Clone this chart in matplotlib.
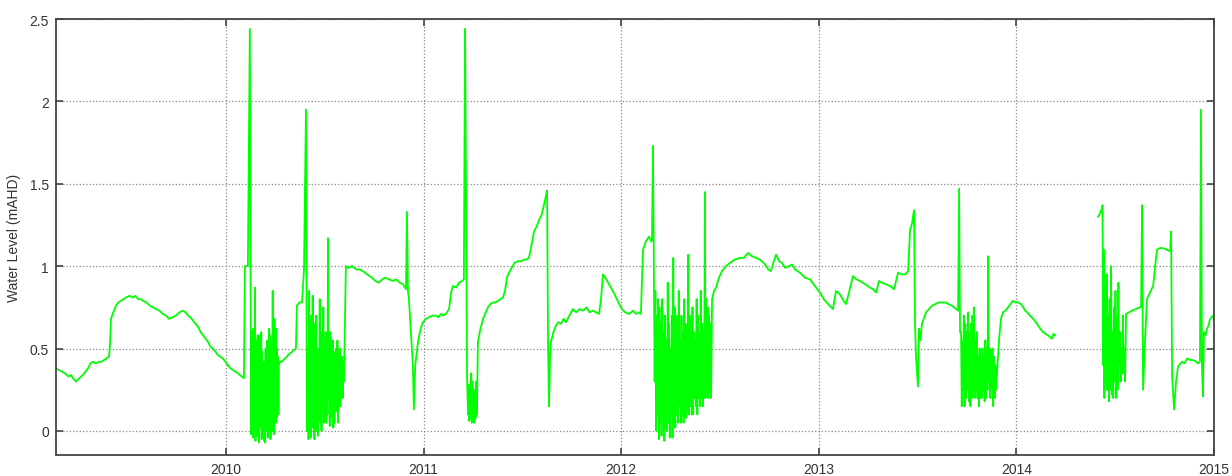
import numpy as np
import matplotlib.pyplot as plt

plt.rcParams['font.family'] = ['Liberation Sans', 'DejaVu Sans']

# water level record, decimal years vs mAHD
yr_a = [2009.140, 2009.155, 2009.170, 2009.185, 2009.205, 2009.215, 2009.226, 2009.241, 2009.258,
        2009.276, 2009.290, 2009.302, 2009.315, 2009.327, 2009.342, 2009.357, 2009.370, 2009.383,
        2009.396, 2009.408, 2009.413, 2009.418, 2009.430, 2009.443, 2009.456, 2009.469, 2009.481,
        2009.494, 2009.512, 2009.529, 2009.542, 2009.555, 2009.568, 2009.580, 2009.598, 2009.615,
        2009.630, 2009.646, 2009.663, 2009.681, 2009.697, 2009.712, 2009.730, 2009.747, 2009.765,
        2009.782, 2009.795, 2009.808, 2009.820, 2009.833, 2009.847, 2009.860, 2009.872, 2009.884,
        2009.897, 2009.910, 2009.922, 2009.934, 2009.947, 2009.960, 2009.972, 2009.985, 2009.997,
        2010.010, 2010.022, 2010.035, 2010.048, 2010.060, 2010.070, 2010.080, 2010.091, 2010.096,
        2010.111, 2010.121]
lv_a = [0.38, 0.37, 0.36, 0.35, 0.33, 0.34, 0.32, 0.30, 0.32,
        0.34, 0.36, 0.38, 0.41, 0.42, 0.41, 0.42, 0.42, 0.43,
        0.44, 0.45, 0.52, 0.68, 0.72, 0.76, 0.78, 0.79, 0.80,
        0.81, 0.82, 0.81, 0.82, 0.80, 0.80, 0.79, 0.78, 0.76,
        0.75, 0.74, 0.73, 0.71, 0.70, 0.68, 0.69, 0.70, 0.72,
        0.73, 0.72, 0.70, 0.69, 0.67, 0.65, 0.63, 0.60, 0.58,
        0.56, 0.54, 0.51, 0.50, 0.48, 0.46, 0.45, 0.44, 0.42,
        0.40, 0.38, 0.37, 0.36, 0.35, 0.34, 0.33, 0.32, 1.00,
        1.00, 2.44]

burst1_span = (2010.127, 2010.268)
burst1 = [-0.02, 0.6, 0.05, 0.55, -0.04, 0.62, 0.1, 0.5, 0.0, 0.87, -0.06, 0.55, 0.08, 0.5,
          -0.03, 0.58, 0.08, 0.58, -0.07, 0.45, 0.05, 0.52, 0.02, 0.6, -0.05, 0.48, 0.0, 0.38,
          0.05, 0.42, -0.06, 0.35, -0.07, 0.5, 0.0, 0.44, 0.04, 0.55, -0.04, 0.5, 0.0, 0.62,
          0.03, 0.58, -0.05, 0.45, 0.0, 0.55, 0.05, 0.85, 0.0, 0.6, -0.02, 0.68, 0.1, 0.55,
          0.05, 0.62, 0.08, 0.5, 0.15, 0.45, 0.1, 0.4]

yr_b = [2010.273, 2010.282, 2010.290, 2010.299, 2010.307, 2010.315, 2010.324, 2010.334, 2010.344,
        2010.354, 2010.359, 2010.372, 2010.385, 2010.395, 2010.405, 2010.410]
lv_b = [0.42, 0.42, 0.43, 0.44, 0.45, 0.46, 0.47, 0.48, 0.49,
        0.50, 0.76, 0.78, 0.78, 0.98, 1.95, 0.0]

burst2_span = (2010.415, 2010.597)
burst2 = [0.5, -0.05, 0.85, 0.0, 0.6, -0.04, 0.7, 0.02, 0.82, 0.05, 0.55, -0.05, 0.65, 0.0,
          0.7, 0.0, 0.5, -0.03, 0.45, 0.1, 0.8, 0.05, 0.6, 0.0, 0.55, 0.15, 0.75, 0.05, 0.5,
          0.1, 0.6, 0.05, 0.45, 0.1, 1.17, 0.2, 0.55, 0.03, 0.6, 0.1, 0.5, 0.08, 0.55, 0.02,
          0.48, 0.05, 0.45, 0.15, 0.5, 0.12, 0.55, 0.05, 0.45, 0.2, 0.5, 0.15, 0.42, 0.25,
          0.45, 0.2, 0.4, 0.3]

yr_c = [2010.607, 2010.620, 2010.638, 2010.660, 2010.677, 2010.693, 2010.715, 2010.739, 2010.756,
        2010.774, 2010.790, 2010.805, 2010.825, 2010.845, 2010.860, 2010.880, 2010.896, 2010.911,
        2010.916, 2010.921, 2010.926, 2010.936, 2010.946, 2010.951, 2010.958, 2010.972, 2010.985,
        2010.997, 2011.012, 2011.027, 2011.045, 2011.063, 2011.075, 2011.088, 2011.100, 2011.113,
        2011.129, 2011.139, 2011.149, 2011.165, 2011.179, 2011.195, 2011.204, 2011.210, 2011.215,
        2011.220]
lv_c = [1.00, 0.99, 1.00, 0.98, 0.98, 0.97, 0.95, 0.93, 0.91,
        0.90, 0.92, 0.93, 0.92, 0.91, 0.92, 0.90, 0.89, 0.86,
        1.33, 0.85, 0.80, 0.60, 0.40, 0.13, 0.40, 0.54, 0.62,
        0.66, 0.68, 0.69, 0.70, 0.70, 0.69, 0.71, 0.70, 0.71,
        0.74, 0.84, 0.88, 0.87, 0.90, 0.91, 0.92, 2.44, 1.48,
        0.33]

burst_s_span = (2011.225, 2011.270)
burst_s = [0.1, 0.28, 0.06, 0.22, 0.08, 0.35, 0.05, 0.3, 0.07, 0.25, 0.05, 0.2, 0.08, 0.3, 0.1]

yr_d = [2011.275, 2011.288, 2011.301, 2011.315, 2011.326, 2011.338, 2011.351, 2011.364, 2011.377,
        2011.390, 2011.402, 2011.412, 2011.422, 2011.432, 2011.442, 2011.460, 2011.478, 2011.495,
        2011.508, 2011.520, 2011.533, 2011.545, 2011.559, 2011.572, 2011.584, 2011.597, 2011.609,
        2011.620, 2011.625, 2011.630, 2011.635, 2011.640, 2011.645, 2011.657, 2011.670, 2011.683,
        2011.695, 2011.708, 2011.721, 2011.738, 2011.756, 2011.772, 2011.790, 2011.807, 2011.825,
        2011.840, 2011.857, 2011.872, 2011.888, 2011.898, 2011.908, 2011.925, 2011.943, 2011.958,
        2011.974, 2011.990, 2012.004, 2012.020, 2012.040, 2012.060, 2012.075, 2012.090, 2012.100,
        2012.106, 2012.111, 2012.125, 2012.141, 2012.152, 2012.156, 2012.161]
lv_d = [0.54, 0.62, 0.68, 0.72, 0.75, 0.77, 0.78, 0.78, 0.79,
        0.80, 0.81, 0.85, 0.93, 0.96, 0.98, 1.02, 1.03, 1.03,
        1.04, 1.04, 1.05, 1.12, 1.21, 1.24, 1.28, 1.31, 1.37,
        1.43, 1.46, 0.54, 0.15, 0.45, 0.54, 0.60, 0.64, 0.66,
        0.65, 0.68, 0.66, 0.70, 0.74, 0.72, 0.74, 0.73, 0.75,
        0.72, 0.73, 0.72, 0.71, 0.80, 0.95, 0.92, 0.88, 0.85,
        0.81, 0.77, 0.74, 0.72, 0.71, 0.73, 0.71, 0.72, 0.71,
        0.95, 1.10, 1.15, 1.18, 1.15, 1.16, 1.73]

burst3_span = (2012.166, 2012.455)
burst3 = [0.9, 0.3, 0.85, 0.0, 0.7, 0.1, 0.8, -0.05, 0.75, 0.05, 0.65, -0.03, 0.8, 0.1, 0.6,
          -0.06, 0.7, 0.02, 0.55, 0.0, 0.9, 0.05, 0.65, -0.04, 0.5, 0.1, 0.7, -0.04, 1.05, 0.1,
          0.75, 0.02, 0.6, 0.1, 0.7, 0.05, 0.85, 0.15, 0.55, 0.05, 0.7, 0.1, 0.6, 0.05, 0.8,
          0.1, 0.65, 0.08, 0.55, 0.12, 1.07, 0.1, 0.7, 0.15, 0.65, 0.1, 0.75, 0.1, 0.6, 0.2,
          0.55, 0.15, 0.8, 0.1, 0.7, 0.2, 0.6, 0.15, 0.85, 0.2, 0.65, 0.15, 0.6, 0.2, 1.45,
          0.2, 0.8, 0.25, 0.75, 0.2, 0.7, 0.25, 0.65, 0.2]

yr_e = [2012.460, 2012.470, 2012.480, 2012.495, 2012.510, 2012.530, 2012.551, 2012.575, 2012.601,
        2012.620, 2012.642, 2012.662, 2012.683, 2012.703, 2012.728, 2012.745, 2012.758, 2012.770,
        2012.784, 2012.800, 2012.814, 2012.830, 2012.849, 2012.865, 2012.880, 2012.905, 2012.930,
        2012.956, 2012.980, 2013.006, 2013.025, 2013.047, 2013.072, 2013.087, 2013.107, 2013.120,
        2013.138, 2013.155, 2013.173, 2013.190, 2013.209, 2013.235, 2013.259, 2013.275, 2013.290,
        2013.305, 2013.320, 2013.340, 2013.360, 2013.381, 2013.401, 2013.420, 2013.437, 2013.452,
        2013.462, 2013.472, 2013.482, 2013.487, 2013.492, 2013.502, 2013.507, 2013.515, 2013.522,
        2013.543, 2013.573, 2013.608, 2013.639, 2013.674, 2013.705, 2013.710, 2013.715]
lv_e = [0.80, 0.85, 0.87, 0.93, 0.97, 1.00, 1.02, 1.04, 1.05,
        1.05, 1.08, 1.06, 1.05, 1.04, 1.01, 0.98, 0.97, 1.02,
        1.07, 1.03, 1.02, 0.99, 1.00, 1.01, 0.98, 0.96, 0.93,
        0.92, 0.88, 0.84, 0.80, 0.77, 0.74, 0.85, 0.83, 0.80,
        0.77, 0.85, 0.94, 0.92, 0.91, 0.89, 0.87, 0.86, 0.84,
        0.91, 0.90, 0.89, 0.88, 0.86, 0.96, 0.95, 0.95, 0.97,
        1.22, 1.26, 1.34, 0.66, 0.45, 0.27, 0.62, 0.55, 0.65,
        0.72, 0.76, 0.78, 0.78, 0.76, 0.73, 1.47, 0.60]

burst4_span = (2013.720, 2013.897)
burst4 = [0.6, 0.15, 0.55, 0.25, 0.7, 0.15, 0.65, 0.2, 0.6, 0.25, 0.72, 0.18, 0.6, 0.15, 0.65,
          0.2, 0.7, 0.25, 0.75, 0.2, 0.55, 0.25, 0.6, 0.2, 0.45, 0.15, 0.5, 0.2, 0.4, 0.2, 0.5,
          0.25, 0.45, 0.18, 0.55, 0.2, 0.5, 0.25, 1.06, 0.3, 0.5, 0.2, 0.45, 0.25, 0.5, 0.15,
          0.45, 0.2, 0.4, 0.25]

yr_f = [2013.912, 2013.922, 2013.932, 2013.945, 2013.958, 2013.970, 2013.983, 2013.995, 2014.008,
        2014.023, 2014.035, 2014.044, 2014.055, 2014.069, 2014.085, 2014.099, 2014.115, 2014.135,
        2014.148, 2014.160, 2014.170, 2014.180, 2014.188, 2014.196]
lv_f = [0.55, 0.68, 0.72, 0.73, 0.75, 0.77, 0.79, 0.78, 0.78,
        0.77, 0.75, 0.73, 0.72, 0.70, 0.68, 0.66, 0.63, 0.60,
        0.59, 0.58, 0.57, 0.56, 0.59, 0.58]

# logger offline between these two stretches
yr_g = [2014.413, 2014.423, 2014.433, 2014.436]
lv_g = [1.30, 1.32, 1.35, 1.37]

burst5_span = (2014.438, 2014.550)
burst5 = [0.4, 1.1, 0.2, 0.9, 0.3, 0.95, 0.25, 0.7, 0.18, 0.8, 0.25, 1.0, 0.22, 0.6, 0.2, 0.75,
          0.3, 0.85, 0.2, 0.7, 0.25, 0.9, 0.4, 0.6, 0.3, 0.5, 0.35, 0.7, 0.35, 0.5, 0.3]

yr_h = [2014.555, 2014.570, 2014.585, 2014.605, 2014.626, 2014.631, 2014.636, 2014.641, 2014.651,
        2014.661, 2014.676, 2014.692, 2014.702, 2014.712, 2014.727, 2014.742, 2014.760, 2014.778,
        2014.783, 2014.788, 2014.798, 2014.808, 2014.818, 2014.838, 2014.850, 2014.864, 2014.880,
        2014.894, 2014.910, 2014.919, 2014.929, 2014.934, 2014.939, 2014.944, 2014.949, 2014.957,
        2014.965, 2014.972, 2014.980, 2014.988, 2014.995, 2015.000]
lv_h = [0.71, 0.72, 0.73, 0.74, 0.75, 0.76, 1.37, 0.25, 0.55,
        0.80, 0.84, 0.88, 1.00, 1.10, 1.11, 1.11, 1.10, 1.09,
        1.21, 0.33, 0.13, 0.30, 0.39, 0.42, 0.41, 0.44, 0.43,
        0.43, 0.42, 0.41, 0.42, 1.95, 0.40, 0.21, 0.60, 0.58,
        0.62, 0.64, 0.68, 0.69, 0.70, 0.68]


def burst(span, vals):
    return np.linspace(span[0], span[1], len(vals)), np.array(vals)


pieces = [
    (np.array(yr_a), np.array(lv_a)),
    burst(burst1_span, burst1),
    (np.array(yr_b), np.array(lv_b)),
    burst(burst2_span, burst2),
    (np.array(yr_c), np.array(lv_c)),
    burst(burst_s_span, burst_s),
    (np.array(yr_d), np.array(lv_d)),
    burst(burst3_span, burst3),
    (np.array(yr_e), np.array(lv_e)),
    burst(burst4_span, burst4),
    (np.array(yr_f), np.array(lv_f)),
    (np.array([2014.30]), np.array([np.nan])),
    (np.array(yr_g), np.array(lv_g)),
    burst(burst5_span, burst5),
    (np.array(yr_h), np.array(lv_h)),
]
t = np.concatenate([p[0] for p in pieces])
wl = np.concatenate([p[1] for p in pieces])

fig = plt.figure(figsize=(12.32, 4.77), dpi=100)
ax = fig.add_axes([56 / 1232, 21 / 477, 1158 / 1232, 436 / 477])
ax.plot(t, wl, color='#00ff00', linewidth=1.3)

ax.set_xlim(2009.14, 2015.0)
ax.set_ylim(-0.146, 2.5)
ax.set_xticks([2010, 2011, 2012, 2013, 2014, 2015])
ax.set_xticklabels(['2010', '2011', '2012', '2013', '2014', '2015'])
ax.set_yticks([0, 0.5, 1, 1.5, 2, 2.5])
ax.set_yticklabels(['0', '0.5', '1', '1.5', '2', '2.5'])
ax.tick_params(direction='in', top=True, right=True, length=5, width=1.2,
               labelsize=10, labelcolor='#333333', color='#444444', pad=5)
ax.grid(True, linestyle=':', color='#888888', linewidth=0.9)
for s in ax.spines.values():
    s.set_color('#444444')
    s.set_linewidth(1.3)
ax.set_ylabel('Water Level (mAHD)', fontsize=10, color='#333333', labelpad=6)

fig.savefig('out.png', dpi=100)
